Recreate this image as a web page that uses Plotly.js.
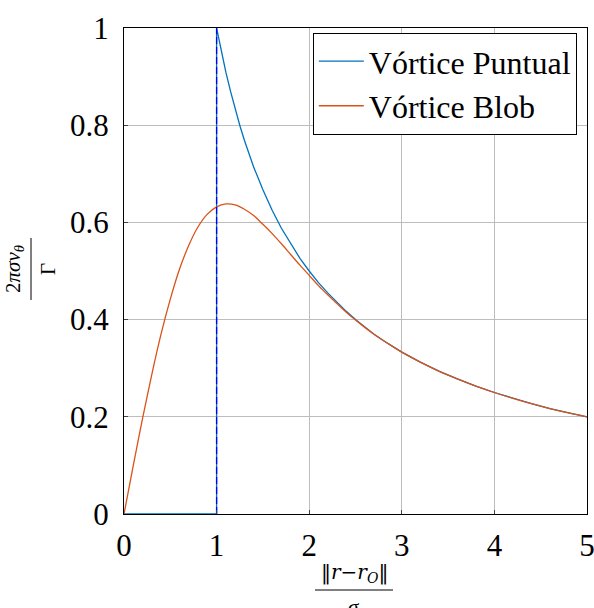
<!DOCTYPE html>
<html>
<head>
<meta charset="utf-8">
<script src="https://cdn.plot.ly/plotly-3.0.1.min.js"></script>
<style>
  html, body { margin: 0; padding: 0; background: #fff; }
  #chart { width: 594px; height: 608px; }
</style>
</head>
<body>
<div id="chart"></div>
<script>
// Series
const puntualX = [0, 1, 1, 1.05, 1.1, 1.15, 1.2, 1.25, 1.3, 1.4, 1.5, 1.6, 1.7, 1.8, 1.9, 2.0, 2.1, 2.2, 2.3, 2.4, 2.5, 2.6, 2.7, 2.8, 2.9, 3.0, 3.2, 3.4, 3.6, 3.8, 4.0, 4.2, 4.4, 4.6, 4.8, 5.0];
const puntualY = [0, 0, 1, 0.952, 0.909, 0.870, 0.833, 0.800, 0.769, 0.714, 0.667, 0.625, 0.588, 0.556, 0.526, 0.500, 0.476, 0.455, 0.435, 0.417, 0.400, 0.385, 0.370, 0.357, 0.345, 0.333, 0.3125, 0.294, 0.278, 0.263, 0.250, 0.238, 0.227, 0.217, 0.208, 0.200];

const blobX = [0, 0.1, 0.2, 0.3, 0.4, 0.5, 0.6, 0.7, 0.8, 0.9, 1.0, 1.1, 1.2, 1.3, 1.4, 1.5, 1.6, 1.7, 1.8, 1.9, 2.0, 2.1, 2.2, 2.3, 2.4, 2.5, 2.6, 2.7, 2.8, 2.9, 3.0, 3.2, 3.4, 3.6, 3.8, 4.0, 4.2, 4.4, 4.6, 4.8, 5.0];
const blobY = [0, 0.0995, 0.196, 0.287, 0.370, 0.442, 0.504, 0.553, 0.591, 0.617, 0.632, 0.638, 0.636, 0.627, 0.614, 0.596, 0.577, 0.556, 0.534, 0.512, 0.491, 0.470, 0.451, 0.433, 0.415, 0.399, 0.384, 0.370, 0.357, 0.345, 0.333, 0.3125, 0.294, 0.278, 0.263, 0.250, 0.238, 0.227, 0.217, 0.208, 0.200];

const markerX = [1, 1];
const markerY = [0, 1];

const seriesNames = ["Vórtice Puntual", "Vórtice Blob"];
const xTickVals = [0, 1, 2, 3, 4, 5];
const xTickText = ["0", "1", "2", "3", "4", "5"];
const yTickVals = [0, 0.2, 0.4, 0.6, 0.8, 1];
const yTickText = ["0", "0.2", "0.4", "0.6", "0.8", "1"];

const SERIF = "Liberation Serif";
const SERIF2 = "DejaVu Serif";

const traces = [
  { x: puntualX, y: puntualY, name: seriesNames[0], type: "scatter", mode: "lines",
    line: { color: "#0072BD", width: 1.3 } },
  { x: blobX, y: blobY, name: seriesNames[1], type: "scatter", mode: "lines",
    line: { color: "#D95319", width: 1.3, shape: "spline", smoothing: 0.8 } },
  { x: markerX, y: markerY, type: "scatter", mode: "lines", showlegend: false,
    line: { color: "#0000FF", width: 1.3, dash: "7px,3px" } }
];

const axisCommon = {
  showline: true, mirror: true, linecolor: "#000", linewidth: 1,
  showgrid: true, gridcolor: "#bdbdbd", gridwidth: 1,
  zeroline: false, ticks: "inside", ticklen: 4, tickcolor: "#444",
  tickfont: { family: SERIF, size: 31, color: "#000" },
  tickmode: "array", ticklabeloverflow: "allow"
};

const layout = {
  width: 594, height: 608,
  font: { family: SERIF },
  margin: { l: 124, r: 7, t: 28, b: 94 },
  paper_bgcolor: "#fff", plot_bgcolor: "#fff",
  showlegend: true,
  xaxis: Object.assign({}, axisCommon, { range: [0, 5], tickvals: xTickVals, ticktext: xTickText, ticklabelstandoff: 4 }),
  yaxis: Object.assign({}, axisCommon, { range: [0, 1], tickvals: yTickVals, ticktext: yTickText, ticklabelstandoff: 8 }),
  legend: {
    x: 0.978, y: 0.99, xanchor: "right", yanchor: "top",
    bgcolor: "#fff", bordercolor: "#000", borderwidth: 1,
    font: { family: SERIF, size: 32, color: "#000" },
    itemwidth: 45, tracegroupgap: 0
  },
  shapes: [
    { type: "line", xref: "paper", yref: "paper", x0: (315 - 124) / 463, x1: (393 - 124) / 463,
      y0: (514 - 590) / 486, y1: (514 - 590) / 486, line: { color: "#000", width: 1 } },
    { type: "line", xref: "paper", yref: "paper", x0: (31 - 124) / 463, x1: (31 - 124) / 463,
      y0: (514 - 238) / 486, y1: (514 - 300) / 486, line: { color: "#000", width: 1 } }
  ],
  annotations: [
    { xref: "paper", yref: "paper", x: (354 - 124) / 463, y: (514 - 588) / 486,
      xanchor: "center", yanchor: "bottom", showarrow: false,
      text: "‖<i>r</i>−<i>r</i><sub><i>O</i></sub>‖",
      font: { family: SERIF2, size: 20, color: "#000" } },
    { xref: "paper", yref: "paper", x: (354 - 124) / 463, y: (514 - 593) / 486,
      xanchor: "center", yanchor: "top", showarrow: false,
      text: "<i>σ</i>",
      font: { family: SERIF, size: 21, color: "#000" } },
    { xref: "paper", yref: "paper", x: (29 - 124) / 463, y: (514 - 269) / 486,
      xanchor: "right", yanchor: "middle", showarrow: false, textangle: -90,
      text: "2<i>πσv</i><sub><i>θ</i></sub>",
      font: { family: SERIF, size: 21, color: "#000" } },
    { xref: "paper", yref: "paper", x: (34 - 124) / 463, y: (514 - 269) / 486,
      xanchor: "left", yanchor: "middle", showarrow: false, textangle: -90,
      text: "Γ",
      font: { family: SERIF, size: 21, color: "#000" } }
  ]
};

Plotly.newPlot("chart", traces, layout, { displayModeBar: false, staticPlot: true });
</script>
</body>
</html>
